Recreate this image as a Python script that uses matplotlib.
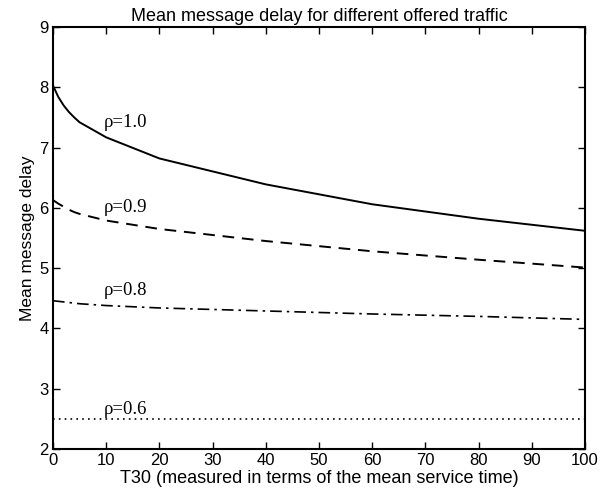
import numpy as np
import matplotlib
matplotlib.use("Agg")
import matplotlib.pyplot as plt

plt.rcParams['font.family'] = ['Liberation Sans', 'DejaVu Sans']

# T30 values and mean delay per offered traffic
t30 = [0, 1, 2, 3, 4, 5, 10, 20, 40, 60, 80, 100]
rho10 = [8.03, 7.84, 7.70, 7.59, 7.50, 7.42, 7.17, 6.82, 6.39, 6.06, 5.82, 5.62]
rho09 = [6.13, 6.07, 6.02, 5.97, 5.93, 5.90, 5.79, 5.65, 5.45, 5.28, 5.14, 5.01]
rho08 = [4.46, 4.45, 4.44, 4.43, 4.42, 4.41, 4.38, 4.34, 4.29, 4.24, 4.20, 4.15]
rho06 = [2.5] * len(t30)

labels = ["ρ=1.0", "ρ=0.9", "ρ=0.8", "ρ=0.6"]
label_y = [7.42, 6.0, 4.63, 2.66]

fig = plt.figure(figsize=(6.11, 4.93), dpi=100)
ax = fig.add_axes([0.0867, 0.0892, 0.8707, 0.856])

ax.plot(t30, rho10, 'k-', lw=1.4)
ax.plot(t30, rho09, 'k', lw=1.4, linestyle=(0, (6, 4)))
ax.plot(t30, rho08, 'k', lw=1.2, linestyle=(0, (7, 3, 1.5, 3)))
ax.plot(t30, rho06, 'k', lw=1.2, linestyle=(0, (1, 2.5)))

for lab, yy in zip(labels, label_y):
    ax.text(9.6, yy, lab, family='Liberation Serif', fontsize=13.5, va='center', ha='left')

ax.set_xlim(0, 100)
ax.set_ylim(2, 9)
ax.set_xticks(np.arange(0, 101, 10))
ax.set_yticks(np.arange(2, 10, 1))
ax.tick_params(direction='in', length=5, width=1, labelsize=12, top=True, right=True, pad=3)
for s in ax.spines.values():
    s.set_linewidth(1.5)

ax.set_title("Mean message delay for different offered traffic", fontsize=13, pad=4)
ax.set_xlabel("T30 (measured in terms of the mean service time)", fontsize=13, labelpad=1)
ax.set_ylabel("Mean message delay", fontsize=12.5, labelpad=3)

fig.savefig("out.png", dpi=100)
